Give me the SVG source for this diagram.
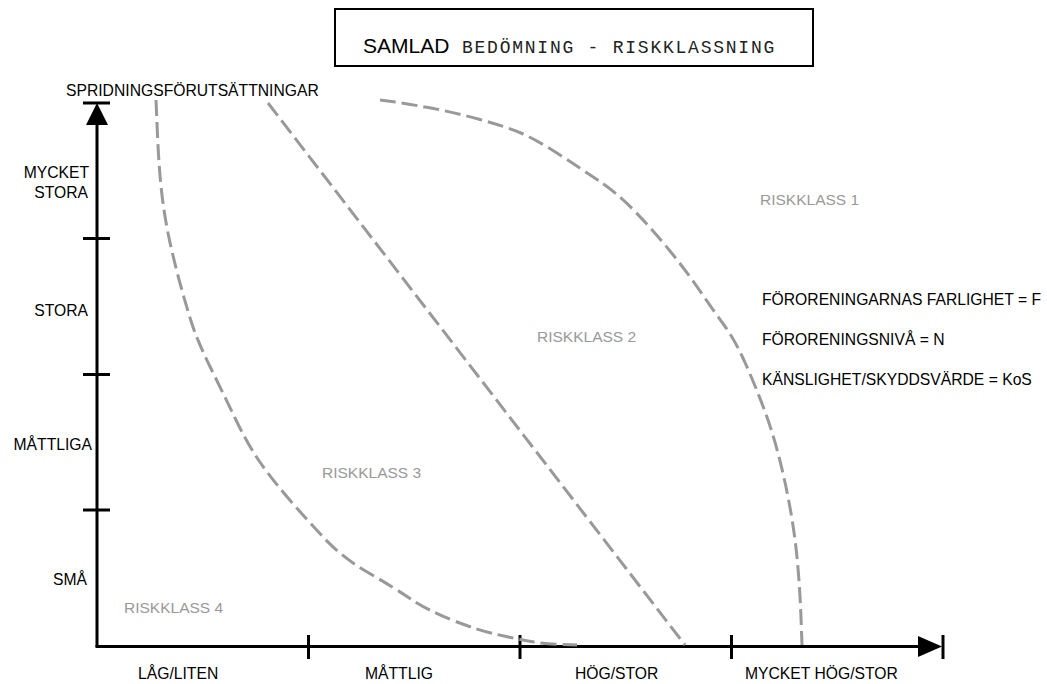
<svg xmlns="http://www.w3.org/2000/svg" width="1047" height="684" viewBox="0 0 1047 684">
<style>
.lbl{font-family:"Liberation Sans",Arial,sans-serif;font-size:15.7px;fill:#000}
.rk{font-family:"Liberation Sans",Arial,sans-serif;font-size:15.5px;fill:#999}
.t1{font-family:"Liberation Sans",Arial,sans-serif;font-size:21px;fill:#000}
.t2{font-family:"Liberation Mono","Courier New",monospace;font-size:18px;letter-spacing:1.76px;fill:#222}
.ax{stroke:#000;stroke-width:3;fill:none}
.cur{stroke:#999;stroke-width:3;fill:none;stroke-dasharray:16 6}
</style>
<rect width="1047" height="684" fill="#fff"/>
<g id="title">
<rect x="335" y="9" width="478" height="57" fill="#fff" stroke="#000" stroke-width="2"/>
<text class="t1" x="363" y="53">SAMLAD</text>
<text class="t2" x="462" y="53">BEDÖMNING - RISKKLASSNING</text>
</g>
<g id="axes">
<line class="ax" x1="97" y1="647" x2="97" y2="124"/>
<polygon points="97,103 86,125 108,125" fill="#000"/>
<line class="ax" x1="83" y1="103" x2="110" y2="103"/>
<line class="ax" x1="83" y1="238.5" x2="110" y2="238.5"/>
<line class="ax" x1="83" y1="374.5" x2="110" y2="374.5"/>
<line class="ax" x1="83" y1="510" x2="110" y2="510"/>
<line class="ax" x1="95.5" y1="646.5" x2="919" y2="646.5"/>
<polygon points="942,646.5 918,636 918,657" fill="#000"/>
<line class="ax" x1="308.5" y1="635" x2="308.5" y2="659"/>
<line class="ax" x1="520" y1="635" x2="520" y2="659"/>
<line class="ax" x1="731.5" y1="635" x2="731.5" y2="659"/>
<line class="ax" x1="943" y1="635" x2="943" y2="659"/>
<text class="lbl" x="66" y="96">SPRIDNINGSFÖRUTSÄTTNINGAR</text>
<text class="lbl" x="89" y="178" text-anchor="end">MYCKET</text>
<text class="lbl" x="88" y="198" text-anchor="end">STORA</text>
<text class="lbl" x="88" y="316" text-anchor="end">STORA</text>
<text class="lbl" x="92" y="450" text-anchor="end">MÅTTLIGA</text>
<text class="lbl" x="87" y="585" text-anchor="end">SMÅ</text>
<text class="lbl" x="138" y="679">LÅG/LITEN</text>
<text class="lbl" x="365" y="679">MÅTTLIG</text>
<text class="lbl" x="575" y="679">HÖG/STOR</text>
<text class="lbl" x="745" y="679">MYCKET HÖG/STOR</text>
</g>
<g id="connectors">
<path class="cur" d="M156,100 L157.5,135 Q159,170 162,195 Q165,220 170,242.5 Q175,265 180.5,285 Q186,305 191.5,322.5 Q197,340 210,366.5 Q223,393 235,418 Q247,443 258.5,460 Q270,477 288.5,498.5 Q307,520 325,539 Q343,558 368,572.5 Q393,587 410,598.5 Q427,610 452,620 Q477,630 497,634.5 Q517,639 531,641.5 Q545,644 561,644.5 L577,645"/>
<path class="cur" d="M268,103 L685,645"/>
<path class="cur" d="M380,100 L391.5,101.5 Q403,103 428,107.5 Q453,112 480,119.5 Q507,127 522,133.5 Q537,140 560,155 Q583,170 600,181.5 Q617,193 635,211.5 Q653,230 670,251 Q687,272 700,291 Q713,310 724,325 Q735,340 745,362.5 Q755,385 763.5,407.5 Q772,430 778.5,455 Q785,480 790,507.5 Q795,535 797.5,562.5 Q800,590 801,617.5 L802,645"/>
</g>
<g id="regions">
<text class="rk" x="760" y="205">RISKKLASS 1</text>
<text class="rk" x="537" y="342">RISKKLASS 2</text>
<text class="rk" x="322" y="478">RISKKLASS 3</text>
<text class="rk" x="124" y="613">RISKKLASS 4</text>
</g>
<g id="legend">
<text class="lbl" x="762" y="305">FÖRORENINGARNAS FARLIGHET = F</text>
<text class="lbl" x="762" y="345">FÖRORENINGSNIVÅ = N</text>
<text class="lbl" x="762" y="385">KÄNSLIGHET/SKYDDSVÄRDE = KoS</text>
</g>
</svg>
